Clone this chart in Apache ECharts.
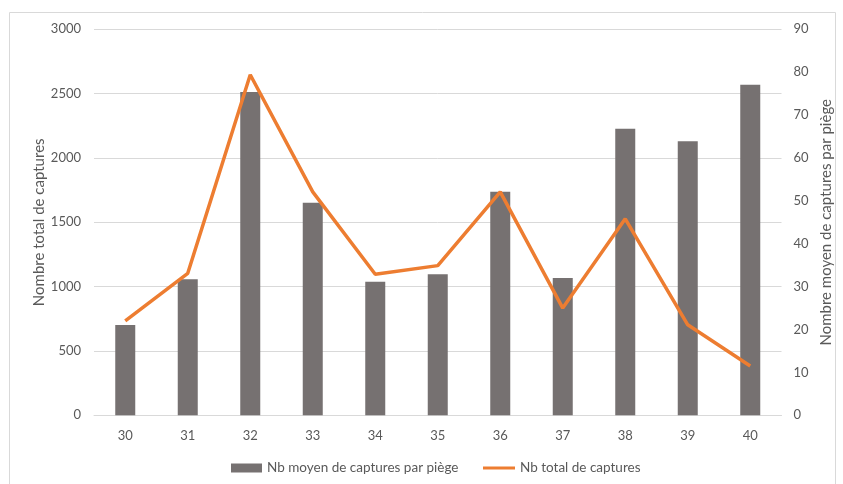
<!DOCTYPE html>
<html><head><meta charset="utf-8">
<script src="https://cdn.jsdelivr.net/npm/echarts@6/dist/echarts.min.js"></script>
<style>html,body{margin:0;padding:0;background:#fff}#c{width:843px;height:484px}</style>
</head><body><div id="c"></div>
<script>
const categories = ['30','31','32','33','34','35','36','37','38','39','40'];
const barValues = [702, 1057, 2513, 1652, 1038, 1096, 1738, 1067, 2228, 2130, 2570];
const lineValues = [22.0, 33.1, 79.4, 52.1, 32.9, 34.9, 52.1, 25.0, 45.8, 21.1, 11.5];
const barName = 'Nb moyen de captures par piège';
const lineName = 'Nb total de captures';
const leftAxisName = 'Nombre total de captures';
const rightAxisName = 'Nombre moyen de captures par piège';

const font = 'Lato, "Open Sans", sans-serif';
const txt = '#595959';
const chart = echarts.init(document.getElementById('c'), null, {renderer: 'canvas'});
chart.setOption({
  animation: false,
  graphic: [{type: 'rect', shape: {x: 9.5, y: 12.5, width: 826, height: 480}, style: {fill: 'none', stroke: '#d9d9d9', lineWidth: 1}, silent: true}],
  grid: {left: 94, right: 61.5, top: 29.3, bottom: 68.7, containLabel: false},
  legend: [{
    left: 226, top: 456, itemWidth: 31, itemHeight: 9, itemGap: 4,
    textStyle: {color: txt, fontSize: 13.5, fontFamily: font},
    data: [{name: barName, icon: 'rect'}]
  }, {
    left: 478, top: 456, itemWidth: 32, itemHeight: 3,
    textStyle: {color: txt, fontSize: 13.5, fontFamily: font},
    data: [{name: lineName, icon: 'rect'}]
  }],
  xAxis: {
    type: 'category', data: categories,
    axisLine: {lineStyle: {color: '#d9d9d9'}},
    axisTick: {show: false},
    axisLabel: {color: txt, fontSize: 13, fontFamily: font, margin: 14}
  },
  yAxis: [{
    type: 'value', min: 0, max: 3000, interval: 500,
    name: leftAxisName, nameLocation: 'middle', nameGap: 47, nameRotate: 90, nameMoveOverlap: false,
    nameTextStyle: {color: txt, fontSize: 15, fontFamily: font},
    axisLabel: {color: txt, fontSize: 13, fontFamily: font, margin: 13, formatter: v => String(v)},
    splitLine: {lineStyle: {color: '#d9d9d9'}},
    axisLine: {show: false}, axisTick: {show: false}
  }, {
    type: 'value', min: 0, max: 90, interval: 10,
    name: rightAxisName, nameLocation: 'middle', nameGap: 37, nameRotate: 90, nameMoveOverlap: false,
    nameTextStyle: {color: txt, fontSize: 15, fontFamily: font},
    axisLabel: {color: txt, fontSize: 13, fontFamily: font, margin: 12, formatter: v => String(v)},
    splitLine: {show: false},
    axisLine: {show: false}, axisTick: {show: false}
  }],
  series: [{
    name: barName, type: 'bar', data: barValues, yAxisIndex: 0,
    barWidth: 20, itemStyle: {color: '#767171'}
  }, {
    name: lineName, type: 'line', data: lineValues, yAxisIndex: 1,
    symbol: 'none', lineStyle: {color: '#ED7D31', width: 3.5}, itemStyle: {color: '#ED7D31'}
  }]
});
</script></body></html>
